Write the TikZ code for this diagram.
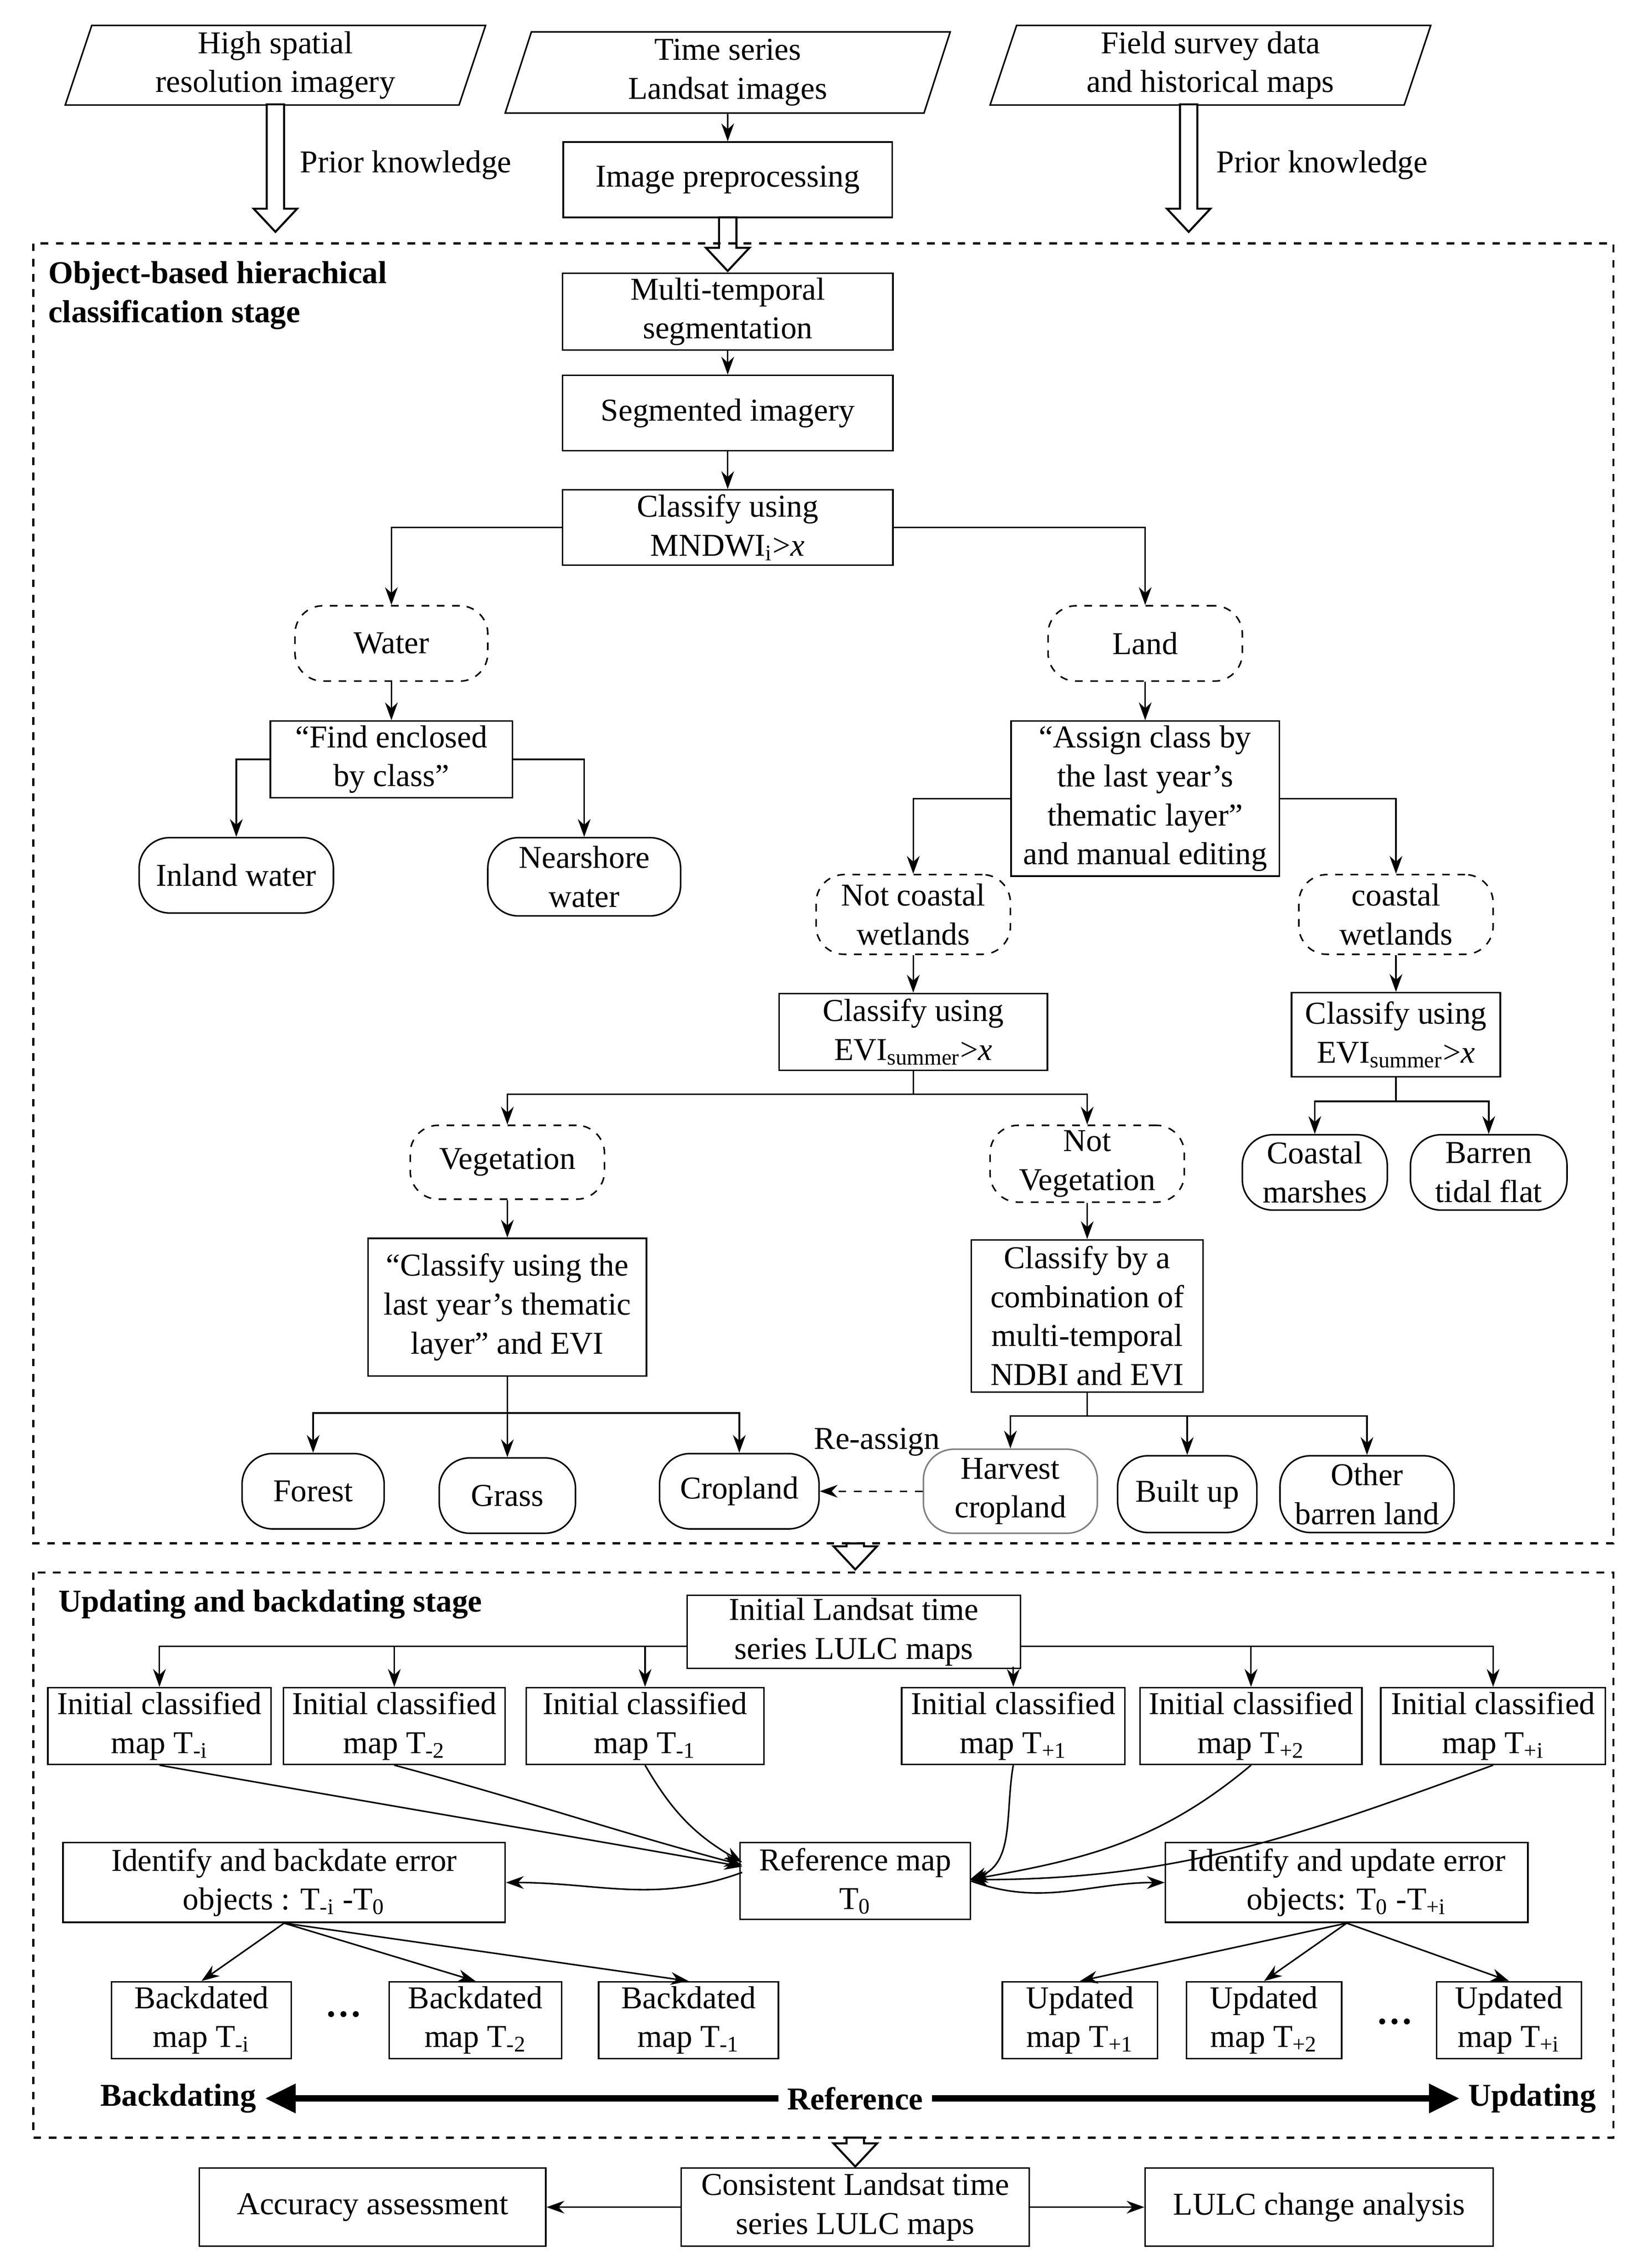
\documentclass[tikz,border=0pt]{standalone}
\usepackage{fontspec}
\setmainfont{Liberation Serif}
\usetikzlibrary{shapes.geometric,arrows.meta}
\newcommand\nd[7]{\node[#6,minimum width=#4*0.02cm,minimum height=#5*0.02cm] (#1) at (#2,#3) {#7};}
\newcommand\hollow[3]{\draw[line width=0.8pt,fill=white] (#1-6,#2) -- (#1+6,#2) -- (#1+6,#3-16) -- (#1+15,#3-16) -- (#1,#3) -- (#1-15,#3-16) -- (#1-6,#3-16) -- cycle;}
\begin{document}
\begin{tikzpicture}[x=0.02cm,y=-0.02cm,font=\fontsize{12.5}{15.3}\selectfont,
 box/.style={draw,line width=0.6pt,align=center,inner sep=1pt},
 dbox/.style={box,dashed,rounded corners=11pt},
 rbox/.style={box,rounded corners=12pt},
 par/.style={draw,line width=0.6pt,align=center,trapezium,trapezium left angle=70,trapezium right angle=110,inner sep=1pt},
 ar/.style={-{Stealth[length=7pt,width=5pt]},line width=0.6pt},
 ln/.style={line width=0.6pt}]
\useasboundingbox (0,0) rectangle (1132,1565);
% top
\nd{p1}{190}{45}{290}{55}{par,trapezium stretches body}{High spatial\\resolution imagery}
\nd{p2}{502}{50}{307}{56}{par,trapezium stretches body}{Time series\\Landsat images}
\nd{p3}{835}{45}{304}{55}{par,trapezium stretches body}{Field survey data\\and historical maps}
\hollow{190}{72}{160}
\hollow{820}{72}{160}
\node at (280,114) {Prior knowledge};
\node at (912,114) {Prior knowledge};
\nd{pre}{502}{124}{227}{52}{box}{Image preprocessing}
\draw[ar] (p2.south) -- (pre.north);
\hollow{502}{150}{187}
% stage 1
\draw[dashed,line width=0.8pt] (23,168) rectangle (1113,1065);
\node[anchor=north west,align=left,font=\fontsize{12.5}{15.3}\selectfont\bfseries,inner sep=0] at (33,180) {Object-based hierachical\\classification  stage};
\nd{mts}{502}{215}{228}{53}{box}{Multi-temporal\\segmentation}
\nd{seg}{502}{285}{228}{52}{box}{Segmented imagery}
\nd{mnd}{502}{364}{228}{52}{box}{Classify using\\MNDWI\textsubscript{i}>\textit{x}}
\draw[ar] (mts.south) -- (seg.north);
\draw[ar] (seg.south) -- (mnd.north);
\nd{water}{270}{444}{133}{52}{dbox}{Water}
\nd{land}{790}{444}{134}{52}{dbox}{Land}
\draw[ar] (mnd.west) -| (water.north);
\draw[ar] (mnd.east) -| (land.north);
\nd{find}{270}{524}{167}{53}{box}{“Find enclosed\\by class”}
\draw[ar] (water.south) -- (find.north);
\nd{inland}{163}{604}{134}{52}{rbox}{Inland water}
\nd{near}{403}{605}{133}{54}{rbox}{Nearshore\\water}
\draw[ar] (find.west) -| (inland.north);
\draw[ar] (find.east) -| (near.north);
\nd{assign}{790}{551}{185}{107}{box}{“Assign class by\\the last year's\\thematic layer”\\and  manual editing}
\draw[ar] (land.south) -- (assign.north);
\nd{ncw}{630}{631}{134}{55}{dbox}{Not coastal\\wetlands}
\nd{cw}{963}{631}{134}{55}{dbox}{coastal\\wetlands}
\draw[ar] (assign.west) -| (ncw.north);
\draw[ar] (assign.east) -| (cw.north);
\nd{evil}{630}{712}{185}{53}{box}{Classify using\\EVI\textsubscript{summer}>\textit{x}}
\nd{evir}{963}{714}{144}{58}{box}{Classify using\\EVI\textsubscript{summer}>\textit{x}}
\draw[ar] (ncw.south) -- (evil.north);
\draw[ar] (cw.south) -- (evir.north);
\nd{veg}{350}{802}{134}{51}{dbox}{Vegetation}
\nd{nveg}{750}{803}{134}{53}{dbox}{Not\\Vegetation}
\coordinate (j1) at (630,755);
\draw[ln] (evil.south) -- (j1);
\draw[ar] (j1) -| (veg.north);
\draw[ar] (j1) -| (nveg.north);
\nd{cm}{907}{809}{100}{52}{rbox}{Coastal\\marshes}
\nd{btf}{1027}{809}{108}{52}{rbox}{Barren\\tidal flat}
\coordinate (j2) at (963,760);
\draw[ln] (evir.south) -- (j2);
\draw[ar] (j2) -| (cm.north);
\draw[ar] (j2) -| (btf.north);
\nd{cly}{350}{902}{192}{95}{box}{“Classify using the\\last year's  thematic\\layer”  and EVI}
\nd{cbc}{750}{908}{160}{105}{box}{Classify by a\\combination of\\multi-temporal\\NDBI and EVI}
\draw[ar] (veg.south) -- (cly.north);
\draw[ar] (nveg.south) -- (cbc.north);
\nd{forest}{216}{1029}{98}{52}{rbox}{Forest}
\nd{grass}{350}{1032}{94}{52}{rbox}{Grass}
\nd{crop}{510}{1029}{110}{52}{rbox}{Cropland}
\coordinate (j3) at (350,975);
\draw[ln] (cly.south) -- (j3);
\draw[ar] (j3) -| (forest.north);
\draw[ar] (j3) -- (grass.north);
\draw[ar] (j3) -| (crop.north);
\nd{harv}{697}{1029}{120}{58}{rbox,draw=gray}{Harvest\\cropland}
\nd{built}{819}{1031}{96}{53}{rbox}{Built up}
\nd{other}{943}{1031}{120}{53}{rbox}{Other\\barren land}
\coordinate (j4) at (750,977);
\draw[ln] (cbc.south) -- (j4);
\draw[ar] (j4) -| (harv.north);
\draw[ar] (j4) -| (built.north);
\draw[ar] (j4) -| (other.north);
\draw[ar,dashed] (harv.west) -- (crop.east);
\node at (605,995) {Re-assign};
\hollow{590}{1065}{1083}
% stage 2
\draw[dashed,line width=0.8pt] (23,1085) rectangle (1113,1475);
\node[anchor=west,font=\fontsize{12.5}{15.3}\selectfont\bfseries,inner sep=0] at (40,1107) {Updating and backdating stage};
\nd{init}{589}{1126}{230}{48}{box}{Initial Landsat time\\series LULC maps}
\nd{ta}{110}{1191}{154}{53}{box}{Initial classified\\map T\textsubscript{-i}}
\nd{tb}{272}{1191}{153}{53}{box}{Initial classified\\map T\textsubscript{-2}}
\nd{tc}{445}{1191}{164}{53}{box}{Initial classified\\map T\textsubscript{-1}}
\nd{td}{699}{1191}{154}{53}{box}{Initial classified\\map T\textsubscript{+1}}
\nd{te}{863}{1191}{153}{53}{box}{Initial classified\\map T\textsubscript{+2}}
\nd{tf}{1030}{1191}{155}{53}{box}{Initial classified\\map T\textsubscript{+i}}
\coordinate (jl) at (474,1136);
\coordinate (jr) at (704,1136);
\draw[ar] (jl) -| (ta.north);
\draw[ar] (272,1136) -- (tb.north);
\draw[ar] (445,1136) -- (tc.north);
\draw[ar] (jr) -| (tf.north);
\draw[ar] (699,1150) -- (td.north);
\draw[ar] (863,1136) -- (te.north);
\nd{ref}{590}{1298}{159}{53}{box}{Reference map\\T\textsubscript{0}}
\nd{idb}{196}{1299}{305}{55}{box}{Identify and backdate error\\objects : T\textsubscript{-i} -T\textsubscript{0}}
\nd{idu}{929}{1299}{250}{55}{box}{Identify and update error\\objects: T\textsubscript{0} -T\textsubscript{+i}}
\draw[ar] (ta.south) to[out=-10,in=170] (512,1288);
\draw[ar] (tb.south) to[out=-15,in=165] (512,1287);
\draw[ar] (tc.south) to[out=-60,in=150] (512,1285);
\draw[ar] (td.south) to[out=-100,in=20] (669,1297);
\draw[ar] (te.south) to[out=-140,in=10] (669,1297);
\draw[ar] (tf.south) to[out=-160,in=0] (669,1297);
\draw[ar] (512,1292) to[out=200,in=0] (idb.east);
\draw[ar] (ref.east) to[out=-20,in=180] (idu.west);
\nd{ba}{139}{1394}{124}{53}{box}{Backdated\\map  T\textsubscript{-i}}
\nd{bb}{328}{1394}{119}{53}{box}{Backdated\\map  T\textsubscript{-2}}
\nd{bc}{475}{1394}{124}{53}{box}{Backdated\\map  T\textsubscript{-1}}
\nd{ua}{745}{1394}{107}{53}{box}{Updated\\map T\textsubscript{+1}}
\nd{ub}{872}{1394}{107}{53}{box}{Updated\\map T\textsubscript{+2}}
\nd{uc}{1041}{1394}{100}{53}{box}{Updated\\map T\textsubscript{+i}}
\node[font=\bfseries\Large] at (237,1390) {\dots};
\node[font=\bfseries\Large] at (962,1395) {\dots};
\draw[ar] (idb.south) -- (ba.north);
\draw[ar] (idb.south) -- (bb.north);
\draw[ar] (idb.south) -- (bc.north);
\draw[ar] (idu.south) -- (ua.north);
\draw[ar] (idu.south) -- (ub.north);
\draw[ar] (idu.south) -- (uc.north);
\node[font=\fontsize{12.5}{15.3}\selectfont\bfseries] (bk) at (123,1448) {Backdating};
\node[font=\fontsize{12.5}{15.3}\selectfont\bfseries] (rf) at (590,1448) {Reference};
\node[font=\fontsize{12.5}{15.3}\selectfont\bfseries] (up) at (1057,1448) {Updating};
\draw[line width=2.5pt,-{Triangle[length=12pt,width=11pt]}] (rf.west) -- (bk.east);
\draw[line width=2.5pt,-{Triangle[length=12pt,width=11pt]}] (rf.east) -- (up.west);
\hollow{590}{1475}{1495}
\nd{cons}{590}{1523}{240}{54}{box}{Consistent Landsat time\\series LULC maps}
\nd{acc}{257}{1523}{239}{54}{box}{Accuracy assessment}
\nd{chg}{910}{1523}{240}{54}{box}{LULC change analysis}
\draw[ar] (cons.west) -- (acc.east);
\draw[ar] (cons.east) -- (chg.west);
\end{tikzpicture}
\end{document}
